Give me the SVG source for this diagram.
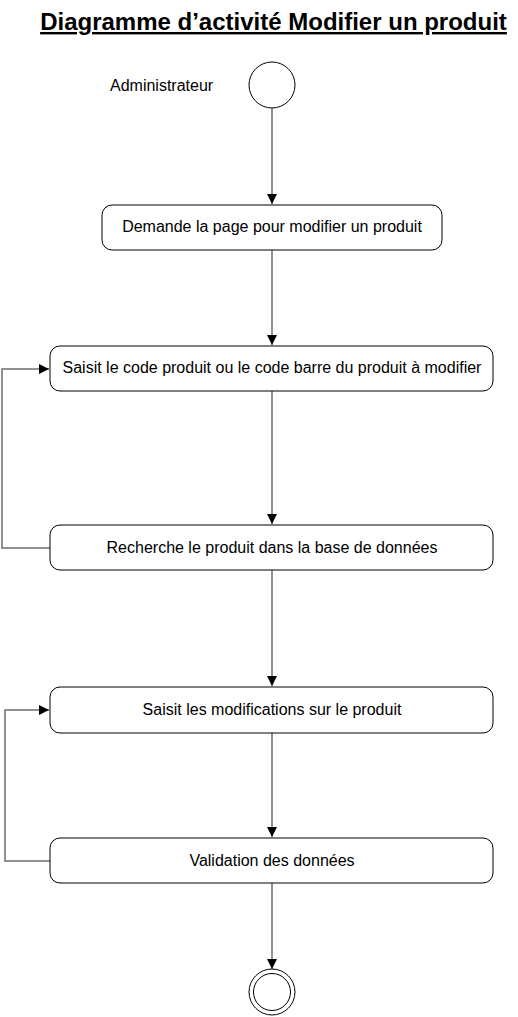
<svg xmlns="http://www.w3.org/2000/svg" width="518" height="1017" viewBox="0 0 518 1017">
<style>
.box{fill:#fff;stroke:#000;stroke-width:1}
.lbl{font-family:"Liberation Sans",Arial,sans-serif;font-size:16px;fill:#000;text-anchor:middle}
.conn{fill:none;stroke:#6e6e6e;stroke-width:1.5}
.circ{fill:#fff;stroke:#000;stroke-width:1}
</style>
<defs>
<marker id="arr" viewBox="0 0 10 10" refX="10" refY="5" markerWidth="10" markerHeight="10" markerUnits="userSpaceOnUse" orient="auto">
<path d="M0,0 L10,5 L0,10 Z" fill="#000"/>
</marker>
</defs>
<rect width="518" height="1017" fill="#fff"/>
<text x="273.5" y="30" style="font-family:'Liberation Sans',Arial,sans-serif;font-size:24px;font-weight:bold;text-decoration:underline" text-anchor="middle">Diagramme d’activité Modifier un produit</text>
<text x="110" y="91" style="font-family:'Liberation Sans',Arial,sans-serif;font-size:16px">Administrateur</text>
<g id="connectors">
<line class="conn" x1="272" y1="108" x2="272" y2="204" marker-end="url(#arr)"/>
<line class="conn" x1="272" y1="250" x2="272" y2="345" marker-end="url(#arr)"/>
<line class="conn" x1="272" y1="391" x2="272" y2="524" marker-end="url(#arr)"/>
<polyline class="conn" points="50,548 2,548 2,369 49,369" marker-end="url(#arr)"/>
<line class="conn" x1="272" y1="570" x2="272" y2="686" marker-end="url(#arr)"/>
<line class="conn" x1="272" y1="733" x2="272" y2="837" marker-end="url(#arr)"/>
<polyline class="conn" points="50,861 5,861 5,710 49,710" marker-end="url(#arr)"/>
<line class="conn" x1="272" y1="883" x2="272" y2="969" marker-end="url(#arr)"/>
</g>
<g id="start"><circle class="circ" cx="272" cy="85" r="23"/></g>
<g id="n1"><rect class="box" x="102" y="205" width="340" height="45" rx="10"/><text class="lbl" x="272" y="232">Demande la page pour modifier un produit</text></g>
<g id="n2"><rect class="box" x="50" y="346" width="443" height="45" rx="10"/><text class="lbl" x="272" y="373">Saisit le code produit ou le code barre du produit à modifier</text></g>
<g id="n3"><rect class="box" x="50" y="525" width="443" height="45" rx="10"/><text class="lbl" x="272" y="553">Recherche le produit dans la base de données</text></g>
<g id="n4"><rect class="box" x="50" y="687" width="443" height="46" rx="10"/><text class="lbl" x="272" y="715">Saisit les modifications sur le produit</text></g>
<g id="n5"><rect class="box" x="50" y="838" width="443" height="45" rx="10"/><text class="lbl" x="272" y="866">Validation des données</text></g>
<g id="end"><circle class="circ" cx="272" cy="992" r="23"/><circle class="circ" cx="272" cy="992" r="18.5"/></g>
</svg>
